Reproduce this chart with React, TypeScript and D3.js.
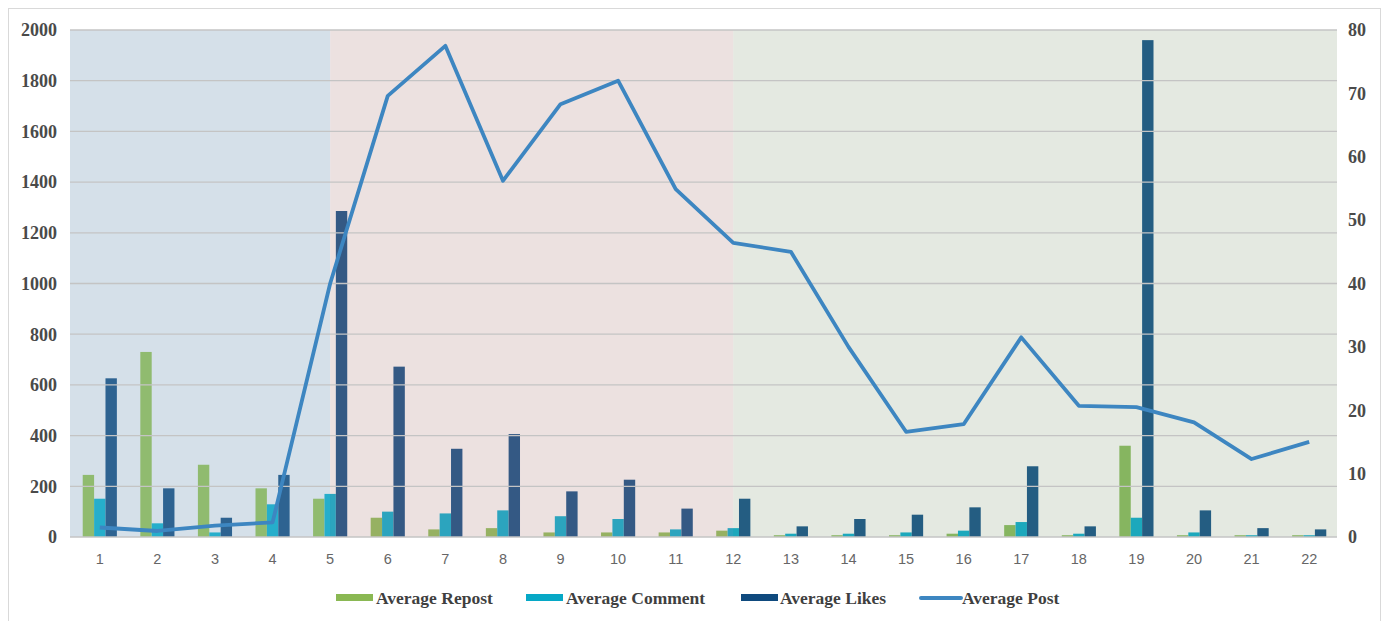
import React from "react";
import * as d3 from "d3";

const categories = ["1","2","3","4","5","6","7","8","9","10","11","12","13","14","15","16","17","18","19","20","21","22"];
const avgRepost = [245, 730, 285, 192, 151, 76, 30, 35, 18, 18, 18, 25, 7, 7, 7, 13, 47, 7, 360, 7, 7, 7];
const avgComment = [151, 54, 18, 129, 170, 100, 93, 105, 82, 71, 30, 35, 13, 13, 18, 25, 59, 13, 76, 18, 7, 7];
const avgLikes = [626, 192, 76, 245, 1286, 672, 348, 406, 180, 226, 112, 151, 42, 71, 88, 117, 279, 42, 1960, 105, 35, 30];
const avgPost = [1.5, 0.95, 1.8, 2.3, 40, 69.6, 77.5, 56.2, 68.3, 72, 54.9, 46.4, 45, 30, 16.6, 17.8, 31.5, 20.7, 20.5, 18.1, 12.3, 15];
const leftTicks = [0, 200, 400, 600, 800, 1000, 1200, 1400, 1600, 1800, 2000];
const rightTicks = [0, 10, 20, 30, 40, 50, 60, 70, 80];
// phase boundaries fall on the centre of these categories
const phaseEnds = ["5", "12"];

const seriesNames = ["Average Repost", "Average Comment", "Average Likes"];
const seriesColors = ["#8ab853", "#06a8c6", "#0f4a7e"];
const lineColor = "#3d86c1";

// tinted phase backgrounds: base fill plus a translucent tint drawn over the bars
const phaseBase = ["rgb(224,231,236)", "rgb(245,244,241)", "rgb(255,249,244)"];
const phaseTint = ["rgb(170,200,225)", "rgb(200,150,160)", "rgb(120,170,150)"];
const tintAlpha = 0.2;

const W = 1387, H = 621;
const left = 70, right = 1337, top = 30, bottom = 537;

export default function App() {
  const x = d3.scaleBand<string>().domain(categories).range([left, right]).paddingInner(0).paddingOuter(0);
  const bw = x.bandwidth();
  const xs = d3.scaleBand<string>().domain(seriesNames).range([1, bw + 1]).paddingInner(0).paddingOuter(1.03);
  const yL = d3.scaleLinear().domain([0, 2000]).range([bottom, top]);
  const yR = d3.scaleLinear().domain([0, 80]).range([bottom, top]);

  const series = [avgRepost, avgComment, avgLikes];
  const bounds = [left, ...phaseEnds.map(c => (x(c) as number) + bw / 2 + 1), right];

  const line = d3.line<number>()
    .x((_, i) => (x(categories[i]) as number) + bw / 2 + 1)
    .y(d => yR(d));

  const legendItems = [
    { name: "Average Repost", color: seriesColors[0], sx: 336, tx: 376, kind: "bar" },
    { name: "Average Comment", color: seriesColors[1], sx: 526, tx: 566, kind: "bar" },
    { name: "Average Likes", color: seriesColors[2], sx: 741, tx: 780, kind: "bar" },
    { name: "Average Post", color: lineColor, sx: 921, tx: 962, kind: "line" },
  ];

  return (
    <svg width={W} height={H} style={{ position: "absolute", left: 0, top: 0, background: "#fff" }}>
      <rect x={8.5} y={8.5} width={1372} height={620} fill="#fff" stroke="#d9d9d9" strokeWidth={1} />
      {phaseBase.map((c, i) => (
        <rect key={"bg" + i} x={bounds[i]} y={top} width={bounds[i + 1] - bounds[i]} height={bottom - top} fill={c} />
      ))}
      {series.map((vals, s) => (
        <g key={"s" + s} fill={seriesColors[s]}>
          {vals.map((v, i) => (
            <rect key={i}
              x={(x(categories[i]) as number) + (xs(seriesNames[s]) as number)}
              y={yL(v)}
              width={xs.bandwidth()}
              height={bottom - yL(v)} />
          ))}
        </g>
      ))}
      {phaseTint.map((c, i) => (
        <rect key={"tint" + i} x={bounds[i]} y={top} width={bounds[i + 1] - bounds[i]} height={bottom - top} fill={c} opacity={tintAlpha} />
      ))}
      {leftTicks.map(t => (
        <line key={"g" + t} x1={left} x2={right} y1={yL(t)} y2={yL(t)} stroke="#c4c4c4" strokeWidth={1.3} />
      ))}
      <path d={line(avgPost) || ""} fill="none" stroke={lineColor} strokeWidth={3.8} strokeLinejoin="round" />
      <g fontFamily="'Liberation Serif', 'Times New Roman', serif" fontWeight="bold" fontSize={18} fill="#4a4a4a">
        {leftTicks.map(t => (
          <text key={"l" + t} x={57} y={yL(t)} dy="0.35em" textAnchor="end">{t}</text>
        ))}
        {rightTicks.map(t => (
          <text key={"r" + t} x={1348} y={yR(t)} dy="0.35em" textAnchor="start">{t}</text>
        ))}
      </g>
      <g fontFamily="'Liberation Sans', Arial, sans-serif" fontSize={14.5} fill="#666">
        {categories.map(c => (
          <text key={"x" + c} x={(x(c) as number) + bw / 2 + 1} y={559} dy="0.35em" textAnchor="middle">{c}</text>
        ))}
      </g>
      <g fontFamily="'Liberation Serif', 'Times New Roman', serif" fontWeight="bold" fontSize={17.5} fill="#3f3f3f">
        {legendItems.map(it => (
          <g key={it.name}>
            {it.kind === "bar"
              ? <rect x={it.sx} y={594} width={37} height={7} fill={it.color} />
              : <line x1={it.sx} x2={it.sx + 40} y1={598} y2={598} stroke={it.color} strokeWidth={4} strokeLinecap="round" />}
            <text x={it.tx} y={598} dy="0.35em">{it.name}</text>
          </g>
        ))}
      </g>
    </svg>
  );
}
